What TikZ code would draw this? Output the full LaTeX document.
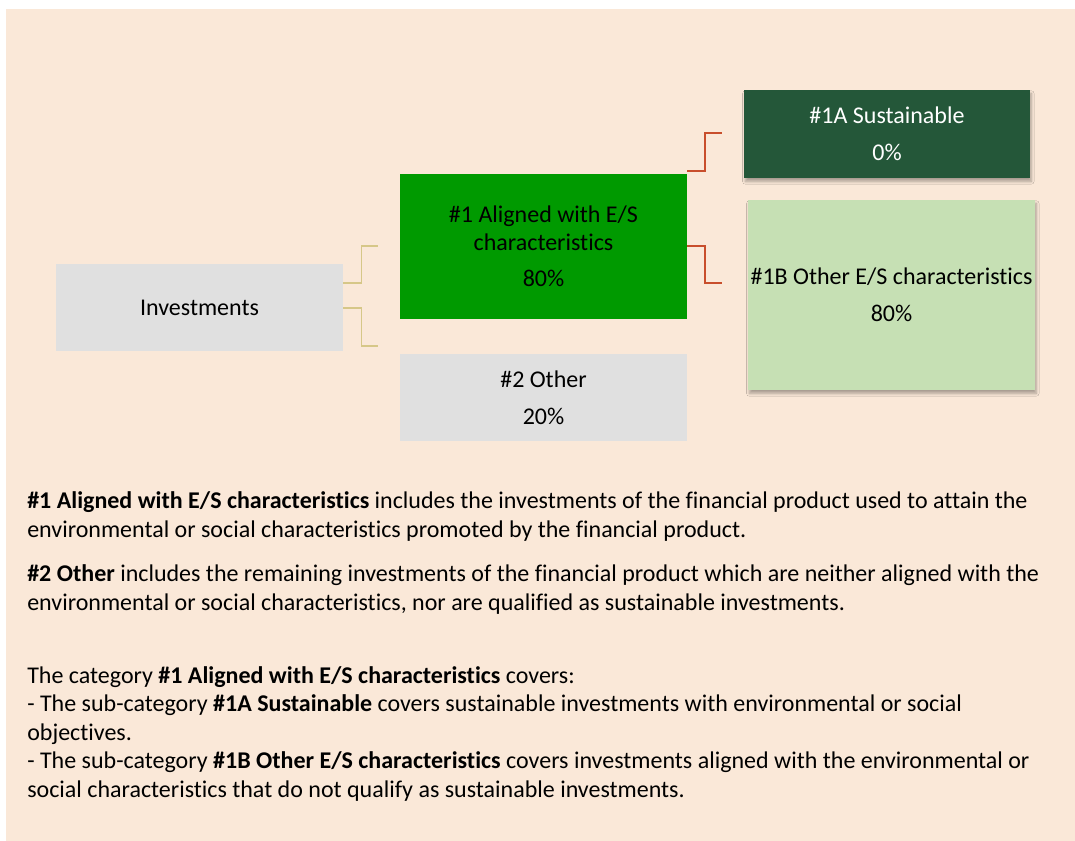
\documentclass[tikz,border=0pt]{standalone}
\usepackage{fontspec}
\setmainfont[Ligatures=NoCommon]{Carlito}
\usetikzlibrary{shadows.blur}

\definecolor{pagebeige}{HTML}{FAE8D8}
\definecolor{boxgray}{HTML}{E0E0E0}
\definecolor{alignedgreen}{HTML}{009A00}
\definecolor{sustgreen}{HTML}{245739}
\definecolor{othergreen}{HTML}{C6E0B4}
\definecolor{goldline}{HTML}{D6C788}
\definecolor{rustline}{HTML}{C84E2C}

\newcommand{\boxfont}{\fontsize{18}{20.5}\selectfont}
\newcommand{\bodyfont}{\fontsize{18}{21.5}\selectfont}

\tikzset{
	catbox/.style={minimum width=215.25pt, inner sep=0pt, align=center, font=\boxfont},
	shadowed/.style={blur shadow={shadow xshift=1pt, shadow yshift=-2.6pt, shadow opacity=32, shadow blur radius=2pt, shadow blur steps=8}},
	goldlink/.style={draw=goldline, line width=0.9pt},
	rustlink/.style={draw=rustline, line width=1.2pt},
	bodytext/.style={anchor=base west, inner sep=0pt, font=\bodyfont}
}

\begin{document}
\begin{tikzpicture}[x=0.75pt,y=-0.75pt]
		%%%%% START %%%%%
		\useasboundingbox (0,0) rectangle (1075,840);
		\fill[white] (0,0) rectangle (1075,850);
		\fill[pagebeige] (6,9) rectangle (1075,850);
		
		\node[catbox, fill=boxgray, minimum height=65.25pt] (inv) at (199.5,307.5) {Investments};
		
		\node[catbox, fill=alignedgreen, minimum height=108.75pt] (aligned) at (543.5,246.5) {\#1 Aligned with E/S\\characteristics\\[7pt]80\%};
		\node[catbox, fill=boxgray, minimum height=65.25pt] (other) at (543.5,397.5) {\#2 Other\\[7pt]20\%};
		
		\node[catbox, shadowed, fill=sustgreen, text=white, minimum width=214.5pt, minimum height=66pt] (sust) at (887,134) {\#1A Sustainable\\[7pt]0\%};
		\node[catbox, shadowed, fill=othergreen, minimum height=142.5pt] (otheres) at (891.5,295) {\#1B Other E/S characteristics\\[7pt]80\%};
		
		% connectors
		\coordinate (invup) at (378,246);
		\coordinate (invdown) at (378,346);
		\draw[goldlink] (inv.east |- 0,283) -- ++(18,0) |- (invup);
		\draw[goldlink] (inv.east |- 0,308) -- ++(18,0) |- (invdown);
		
		\coordinate (alignedup) at (722,133);
		\coordinate (aligneddown) at (722,283);
		\draw[rustlink] (aligned.east |- 0,171) -- ++(18,0) |- (alignedup);
		\draw[rustlink] (aligned.east |- 0,246) -- ++(18,0) |- (aligneddown);
		
		% explanations
		\node[bodytext] (def1a) at (27,508) {\textbf{\#1 Aligned with E/S characteristics} includes the investments of the financial product used to attain the};
		\node[bodytext] (def1b) at (27,537) {environmental or social characteristics promoted by the financial product.};
		
		\node[bodytext] (def2a) at (27,581) {\textbf{\#2 Other} includes the remaining investments of the financial product which are neither aligned with the};
		\node[bodytext] (def2b) at (27,610) {environmental or social characteristics, nor are qualified as sustainable investments.};
		
		\node[bodytext] (cat1) at (27,683) {The category \textbf{\#1 Aligned with E/S characteristics} covers:};
		\node[bodytext] (cat2) at (27,711.5) {- The sub-category \textbf{\#1A Sustainable} covers sustainable investments with environmental or social};
		\node[bodytext] (cat3) at (27,740) {objectives.};
		\node[bodytext] (cat4) at (27,768.5) {- The sub-category \textbf{\#1B Other E/S characteristics} covers investments aligned with the environmental or};
		\node[bodytext] (cat5) at (27,797) {social characteristics that do not qualify as sustainable investments.};
		%%%%% END %%%%%
\end{tikzpicture}
\end{document}
